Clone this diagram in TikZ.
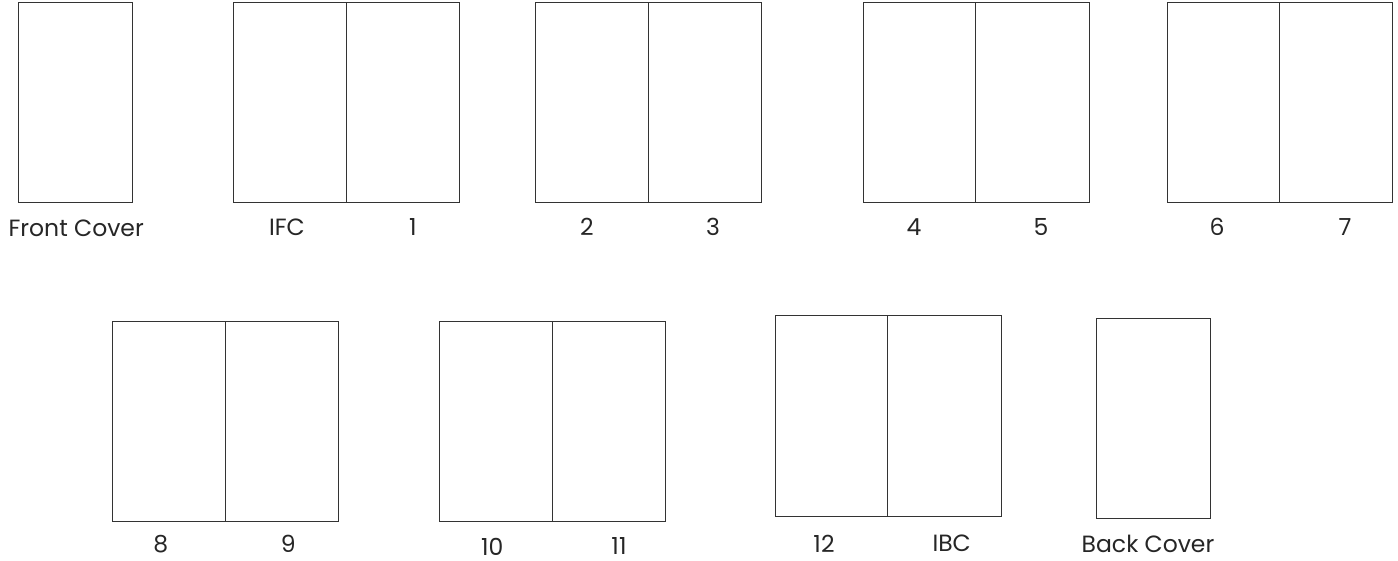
\documentclass[tikz,border=0pt]{standalone}
\usepackage{fontspec}
\setmainfont{Poppins}
\newcommand{\pg}[5]{\node[page, minimum width={#4-#2}, minimum height={#5-#3}] (#1) at ({(#2+#4)/2},{(#3+#5)/2}) {};}
\begin{document}
\begin{tikzpicture}[x=1pt,y=-1pt,
  page/.style={draw=black!80, line width=1pt, inner sep=0pt, outer sep=0pt},
  lbl/.style={text=black!85, font=\fontsize{23.5}{26}\selectfont, inner sep=0pt, anchor=center}]
\fill[white] (0,0) rectangle (1398,561);
\useasboundingbox (0,0) rectangle (1398,561);
% row 1
\pg{FC}{18}{3}{132}{203}
\pg{pIFC}{233.3}{3}{346}{203}
\pg{p1}{346}{3}{459.3}{203}
\pg{p2}{535.3}{3}{648.3}{203}
\pg{p3}{648.3}{3}{761.7}{203}
\pg{p4}{863.3}{3}{975.7}{203}
\pg{p5}{975.7}{3}{1089.3}{203}
\pg{p6}{1167.3}{3}{1279.3}{203}
\pg{p7}{1279.3}{3}{1392.7}{203}
% row 2
\pg{p8}{112.3}{321.3}{225}{521.7}
\pg{p9}{225}{321.3}{338.3}{521.7}
\pg{p10}{439.3}{321.3}{552.3}{521.7}
\pg{p11}{552.3}{321.3}{665.7}{521.7}
\pg{p12}{775.7}{315.3}{887.7}{516}
\pg{pIBC}{887.7}{315.3}{1001.7}{516}
\pg{BC}{1096}{318.3}{1210.7}{518.3}
% labels
\node[lbl] (lFC) at (76.2,228.5) {Front Cover};
\node[lbl] (lIFC) at (287,227) {IFC};
\node[lbl] (l1) at (413,227) {1};
\node[lbl] (l2) at (587,227) {2};
\node[lbl] (l3) at (713,227) {3};
\node[lbl] (l4) at (914,227) {4};
\node[lbl] (l5) at (1041,227) {5};
\node[lbl] (l6) at (1217,227) {6};
\node[lbl] (l7) at (1345,227) {7};
\node[lbl] (l8) at (160.7,544) {8};
\node[lbl] (l9) at (288.3,544) {9};
\node[lbl] (l10) at (492.3,546.5) {10};
\node[lbl] (l11) at (619,546.5) {11};
\node[lbl] (l12) at (824,543.7) {12};
\node[lbl] (lIBC) at (951.7,543.7) {IBC};
\node[lbl] (lBC) at (1148,544) {Back Cover};
\end{tikzpicture}
\end{document}
